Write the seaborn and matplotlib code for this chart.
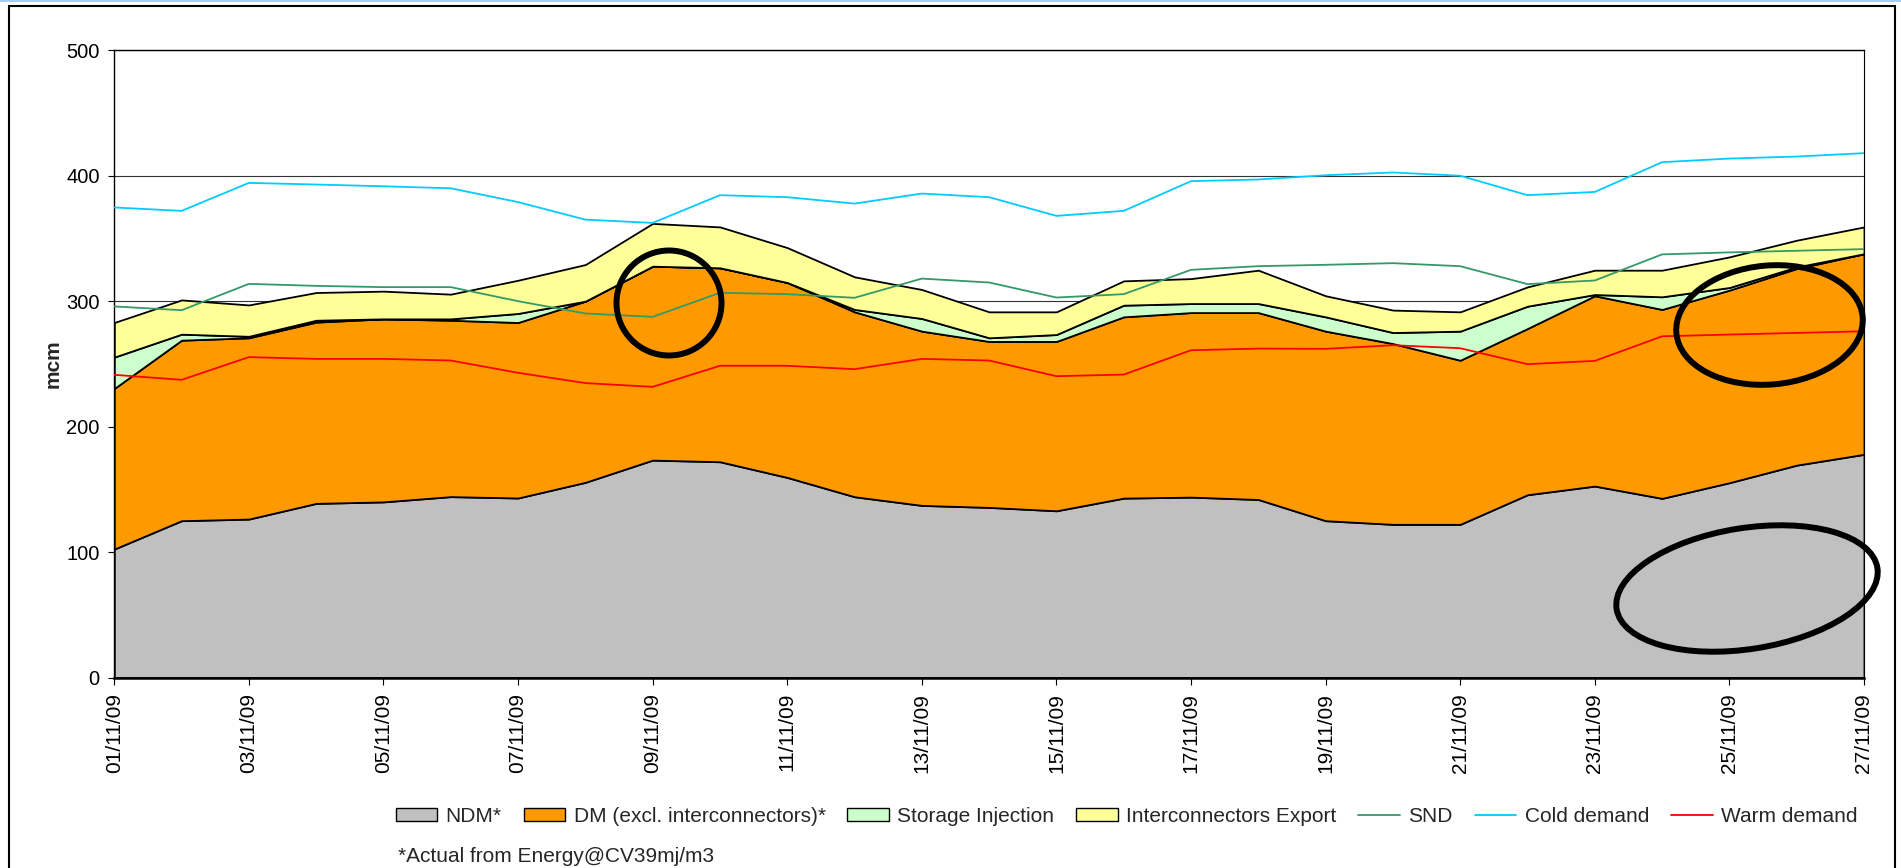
import numpy as np
import pandas as pd
import seaborn as sns
import matplotlib.pyplot as plt
import matplotlib.dates as mdates
from matplotlib.patches import Patch, Ellipse, Rectangle
from matplotlib.lines import Line2D


DATES = pd.date_range("2009-11-01", "2009-11-27", freq="D")

# stacked areas (mcm)
NDM = [102.4, 125.0, 126.3, 138.8, 140.0, 144.2, 143.1, 155.6, 173.3, 172.0, 159.5, 144.1, 137.2, 135.6,
       132.9, 143.0, 143.8, 141.9, 125.0, 122.1, 122.1, 145.7, 152.6, 142.8, 155.3, 169.3, 177.9]
DM = [128.0, 143.9, 144.5, 144.5, 145.9, 140.6, 139.9, 144.4, 154.6, 154.6, 155.4, 147.4, 138.9, 132.3,
      135.0, 144.5, 147.1, 149.0, 151.1, 144.1, 130.8, 132.5, 151.7, 150.6, 153.5, 156.7, 159.9]
STORAGE = [25.0, 4.8, 1.2, 1.5, 0.0, 1.1, 7.2, 0.0, 0.0, 0.0, 0.0, 1.9, 10.1, 2.9,
           5.5, 9.3, 7.2, 7.2, 11.4, 8.8, 23.2, 17.8, 1.0, 10.1, 2.1, 1.3, 0.0]
EXPORT = [27.6, 27.3, 25.0, 22.1, 22.1, 19.7, 26.5, 29.2, 34.1, 32.6, 27.8, 26.0, 23.1, 20.7,
          18.1, 19.4, 19.9, 26.6, 16.8, 17.9, 15.4, 15.4, 19.4, 21.2, 24.4, 21.3, 21.4]

# demand lines (mcm)
SND = [295.8, 292.8, 313.8, 312.2, 311.2, 311.2, 300.0, 290.2, 287.5, 306.7, 305.6, 302.7, 318.0, 314.9,
       302.9, 305.6, 325.0, 327.9, 329.0, 330.3, 327.9, 313.6, 316.5, 337.3, 338.9, 340.2, 341.5]
COLD = [374.7, 372.0, 394.3, 393.0, 391.6, 390.0, 379.0, 365.0, 362.4, 384.5, 382.9, 377.8, 385.8, 382.9,
        368.0, 372.0, 395.7, 397.0, 400.4, 402.6, 400.0, 384.5, 387.1, 410.8, 413.7, 415.3, 418.0]
WARM = [241.3, 237.3, 255.4, 254.0, 254.0, 252.7, 242.9, 234.7, 231.7, 248.5, 248.5, 245.8, 254.0, 252.7,
        240.2, 241.5, 260.9, 262.2, 262.0, 264.9, 262.5, 249.8, 252.4, 272.0, 273.4, 274.7, 276.0]

AREA_LABELS = ["NDM*", "DM (excl. interconnectors)*", "Storage Injection", "Interconnectors Export"]
AREA_COLORS = ["#C0C0C0", "#FF9900", "#CCFFCC", "#FFFF99"]
LINE_LABELS = ["SND", "Cold demand", "Warm demand"]
LINE_COLORS = ["#339966", "#00CCFF", "#FF0000"]
Y_TICKS = [0, 100, 200, 300, 400, 500]

W, H = 1901, 868

sns.set_style("ticks")
plt.rcParams["font.family"] = ["Liberation Sans", "DejaVu Sans"]

fig = plt.figure(figsize=(W / 100, H / 100), dpi=100)
fig.patch.set_facecolor("white")
ax = fig.add_axes([114.3 / W, 1 - 677.5 / H, (1864 - 114.3) / W, (677.5 - 50.3) / H])

# gridlines behind the areas
ax.set_axisbelow(True)
ax.yaxis.grid(True, color="#333333", linewidth=0.8)
ax.xaxis.grid(False)

ax.stackplot(DATES, NDM, DM, STORAGE, EXPORT, colors=AREA_COLORS,
             edgecolor="black", linewidth=1.3, zorder=2)

lines_df = pd.DataFrame({
    "date": np.tile(DATES, len(LINE_LABELS)),
    "mcm": np.concatenate([SND, COLD, WARM]),
    "series": np.repeat(LINE_LABELS, len(DATES)),
})
sns.lineplot(data=lines_df, x="date", y="mcm", hue="series",
             palette=dict(zip(LINE_LABELS, LINE_COLORS)), linewidth=1.3,
             legend=False, ax=ax, zorder=3)

ax.set_xlim(DATES[0], DATES[-1])
ax.set_ylim(0, 500)
ax.set_yticks(Y_TICKS)
ax.xaxis.set_major_locator(mdates.DayLocator(bymonthday=range(1, 28, 2)))
ax.xaxis.set_major_formatter(mdates.DateFormatter("%d/%m/%y"))
ax.tick_params(axis="x", rotation=90, labelsize=15, length=5, width=0.8, pad=6, colors="black")
ax.tick_params(axis="y", labelsize=14.5, length=4.5, width=0.8, pad=6, colors="black")
ax.set_xlabel("")
ax.set_ylabel("")

for side, lw in [("left", 1.0), ("top", 1.0), ("right", 0.8), ("bottom", 1.8)]:
    ax.spines[side].set_visible(True)
    ax.spines[side].set_color("black")
    ax.spines[side].set_linewidth(lw)

fig.text(53.6 / W, 1 - 364 / H, "mcm", rotation=90, ha="center", va="center",
         fontsize=15, fontweight="bold")

handles = [Patch(facecolor=c, edgecolor="black", linewidth=1.0) for c in AREA_COLORS]
handles += [Line2D([], [], color=c, linewidth=1.3) for c in LINE_COLORS]
fig.legend(handles, AREA_LABELS + LINE_LABELS, loc="center",
           bbox_to_anchor=(1126.5 / W, 1 - 816 / H), ncol=7, frameon=False,
           fontsize=15, handlelength=2.0, handleheight=0.6, handletextpad=0.4,
           columnspacing=1.05)

fig.text(398 / W, 1 - 847 / H, "*Actual from Energy@CV39mj/m3", ha="left", va="top", fontsize=15)

# overlay in pixel coordinates: outer frame and hand-drawn ellipses
ov = fig.add_axes([0, 0, 1, 1])
ov.set_xlim(0, W)
ov.set_ylim(0, H)
ov.axis("off")
ov.set_zorder(10)
ov.patch.set_alpha(0)
ov.add_patch(Rectangle((9, -20), 1886, H - 6 + 20, fill=False, edgecolor="black", linewidth=1.5))
ov.plot([0, W], [H - 0.8, H - 0.8], color="#a9cdef", linewidth=1.5)
for (cx, cy), w, h, ang in [((669, 303), 105, 105, 0),
                            ((1769.5, 325), 187, 119, 5),
                            ((1747, 588.5), 264, 121, 9)]:
    ov.add_patch(Ellipse((cx, H - cy), w, h, angle=ang, fill=False,
                         edgecolor="black", linewidth=4.3))

fig.savefig("out.png", dpi=100)
